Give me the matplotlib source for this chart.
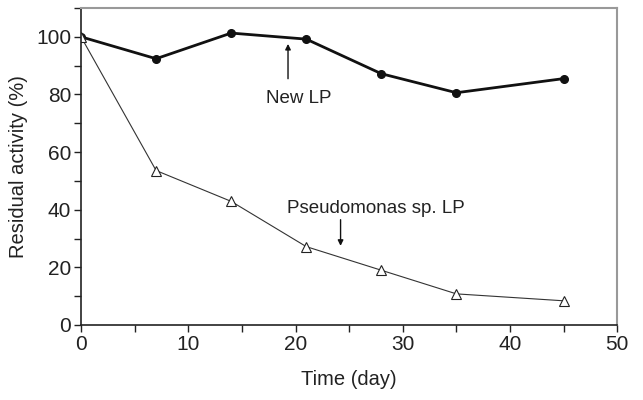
import matplotlib
matplotlib.use("Agg")
import matplotlib.pyplot as plt
from matplotlib.ticker import MultipleLocator

plt.rcParams.update({"font.family": ["Liberation Sans", "DejaVu Sans"]})

days = [0, 7, 14, 21, 28, 35, 45]
new_lp = [100, 92.4, 101.3, 99.2, 87.2, 80.6, 85.5]
pseudo_lp = [100, 53.6, 42.9, 27.2, 19.0, 10.8, 8.4]

fig = plt.figure(figsize=(6.43, 4.0), dpi=100)
ax = fig.add_axes([0.126, 0.1875, 0.834, 0.7925])

ax.plot(days, new_lp, color="#111", lw=2.0, marker="o", ms=5.5, mfc="#111", mec="#111")
ax.plot(days, pseudo_lp, color="#333", lw=0.8, marker="^", ms=7, mfc="white", mec="#222", mew=0.8)

ax.annotate("", xy=(19.3, 98.5), xytext=(19.3, 84.5),
            arrowprops=dict(arrowstyle="-|>", color="#111", lw=1.0, mutation_scale=8))
ax.text(20.3, 78.5, "New LP", ha="center", va="center", fontsize=13.5, color="#222")
ax.annotate("", xy=(24.2, 26.5), xytext=(24.2, 37.5),
            arrowprops=dict(arrowstyle="-|>", color="#111", lw=1.0, mutation_scale=8))
ax.text(27.5, 40.5, "Pseudomonas sp. LP", ha="center", va="center", fontsize=13.5, color="#222")

ax.set_xlim(0, 50)
ax.set_ylim(0, 110)
ax.xaxis.set_major_locator(MultipleLocator(10))
ax.xaxis.set_minor_locator(MultipleLocator(5))
ax.yaxis.set_minor_locator(MultipleLocator(10))
ax.set_yticks([0, 20, 40, 60, 80, 100])
ax.tick_params(which="both", direction="out", length=5, width=1, color="#222",
               labelsize=15, labelcolor="#222", pad=2)
for s in ["top", "right"]:
    ax.spines[s].set_color("#999")
    ax.spines[s].set_linewidth(1.5)
for s in ["left", "bottom"]:
    ax.spines[s].set_color("#222")
    ax.spines[s].set_linewidth(1.2)

ax.set_xlabel("Time (day)", fontsize=14.5, color="#222", labelpad=12)
ax.set_ylabel("Residual activity (%)", fontsize=14.5, color="#222", labelpad=6)

fig.savefig("out.png", dpi=100)
